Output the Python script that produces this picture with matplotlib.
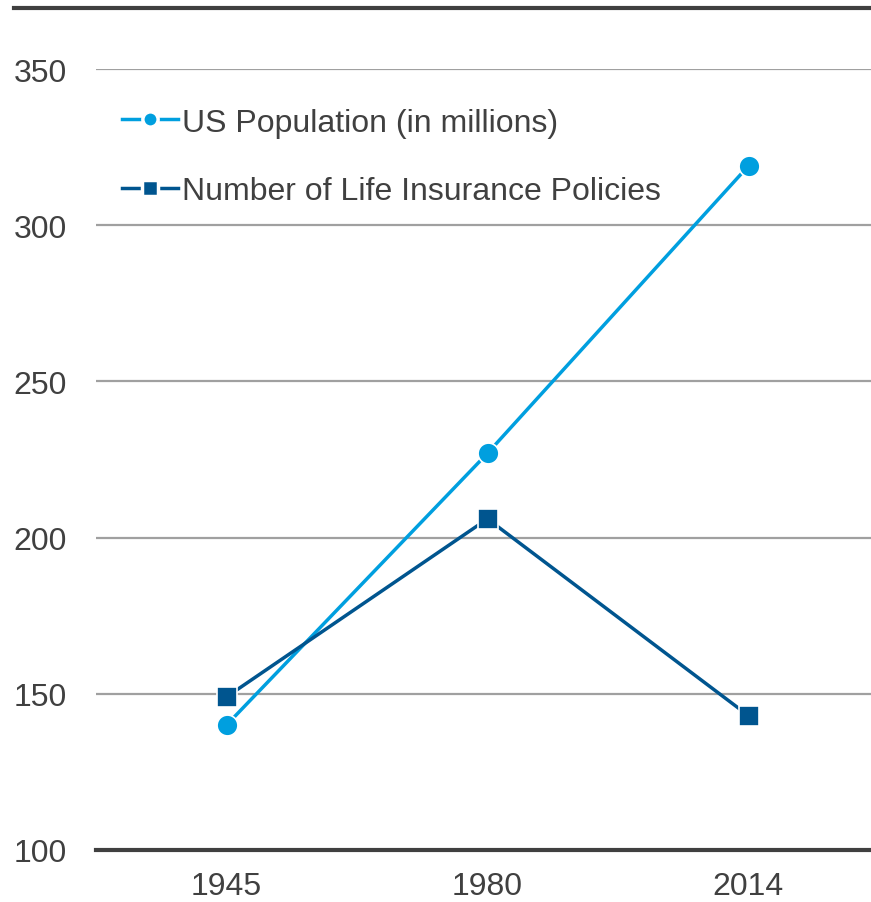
import numpy as np
import matplotlib.pyplot as plt
from matplotlib.lines import Line2D

# === DATA ===
years = ['1945', '1980', '2014']
us_population = [140, 227, 319]
life_policies = [149, 206, 143]

light_blue = '#009fdf'
dark_blue = '#00558f'
text_color = '#404040'

plt.rcParams['font.family'] = ['Liberation Sans', 'DejaVu Sans']

fig = plt.figure(figsize=(8.71, 9.03), dpi=100)
# axes run slightly past the right edge of the figure, as in the source
ax = fig.add_axes([96 / 871, 1 - 851 / 903, (879 - 96) / 871, (851 - 70) / 903])

x = np.arange(len(years))
ax.plot(x, us_population, color=light_blue, linewidth=2.5, marker='o', markersize=15,
        markeredgecolor='white', markeredgewidth=1.2, label='US Population (in millions)', zorder=3)
ax.plot(x, life_policies, color=dark_blue, linewidth=2.5, marker='s', markersize=14,
        markeredgecolor='white', markeredgewidth=1.2, label='Number of Life Insurance Policies', zorder=3)

ax.set_xlim(-0.5, 2.5)
ax.set_ylim(100, 350)
ax.set_yticks([100, 150, 200, 250, 300, 350])
ax.set_xticks(x)
ax.set_xticklabels(years)

ax.grid(axis='y', color='#a0a0a0', linewidth=1.6)
ax.set_axisbelow(True)
for s in ['top', 'right', 'left']:
    ax.spines[s].set_visible(False)
ax.spines['bottom'].set_color('#404040')
ax.spines['bottom'].set_linewidth(3)
ax.tick_params(axis='both', length=0, labelsize=23, colors=text_color)
ax.tick_params(axis='y', pad=21)
ax.tick_params(axis='x', pad=15)

# legend handles: short dashes around the marker
handles = [
    Line2D([0], [0], color=light_blue, linewidth=2.5, marker='o', markersize=11,
           markeredgecolor='white', markeredgewidth=2.5),
    Line2D([0], [0], color=dark_blue, linewidth=2.5, marker='s', markersize=11,
           markeredgecolor='white', markeredgewidth=2.5),
]
leg = ax.legend(handles, ['US Population (in millions)', 'Number of Life Insurance Policies'],
                loc='upper left', bbox_to_anchor=(0.017, 0.967), frameon=False, fontsize=23,
                handlelength=1.75, handletextpad=0.12, labelspacing=1.2, borderaxespad=0)
for t in leg.get_texts():
    t.set_color(text_color)

# dark rule along the top
fig.add_artist(Line2D([14 / 871, 1], [1 - 8.5 / 903, 1 - 8.5 / 903], color='#404040', linewidth=3))

fig.savefig('out.png', dpi=100)
